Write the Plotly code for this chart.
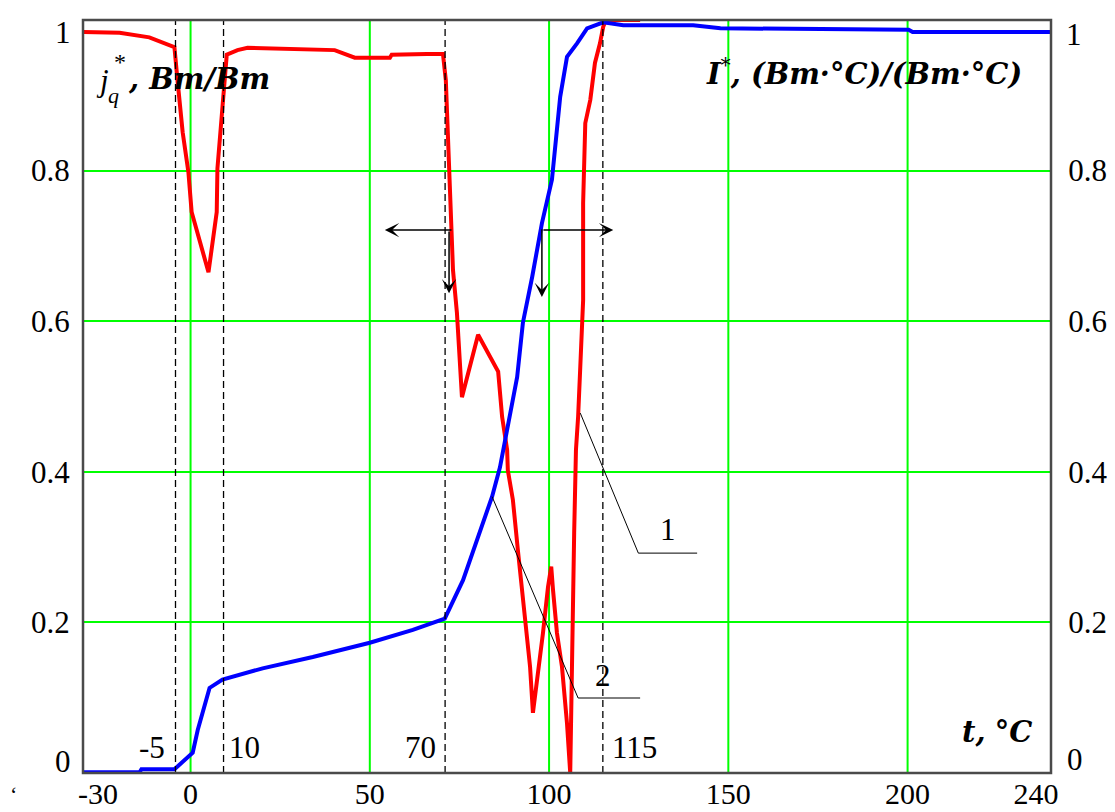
import plotly.graph_objects as go

# ---------------- data ----------------
# curve 1 : j_q*  (left axis)
t_red = [-29.9, -19.8, -11.5, -7.3, -4.5, -3.6, -2.2, -0.6, 0.3, 5.0, 7.3, 7.5, 8.7, 10.1,
         13.1, 15.9, 40.2, 45.8, 55.6, 56.1, 65.9, 70.4, 71.2, 72.3, 73.2, 74.3, 74.9, 75.7,
         80.2, 85.8, 86.9, 88.3, 88.5, 89.9, 91.3, 92.5, 93.9, 94.7, 95.5, 96.6, 98.3, 99.7,
         100.6, 101.1, 102.2, 103.6, 105.0, 105.9, 106.4, 107.0, 107.5, 108.1, 108.7, 109.5,
         109.5, 110.1, 111.5, 112.8, 114.2, 115.1, 115.9, 125.4]
j_red = [0.984, 0.983, 0.977, 0.969, 0.964, 0.918, 0.851, 0.798, 0.745, 0.665, 0.745, 0.803,
         0.874, 0.954, 0.960, 0.963, 0.960, 0.950, 0.950, 0.954, 0.955, 0.955, 0.920, 0.788,
         0.668, 0.611, 0.558, 0.499, 0.582, 0.533, 0.473, 0.429, 0.402, 0.363, 0.296, 0.239,
         0.186, 0.141, 0.080, 0.120, 0.186, 0.247, 0.274, 0.243, 0.186, 0.141, 0.066, 0.0,
         0.186, 0.319, 0.429, 0.473, 0.539, 0.628, 0.757, 0.863, 0.894, 0.943, 0.969, 0.991,
         1.0, 1.0]

# curve 2 : I*  (right axis)
t_blue = [-29.9, -14.2, -13.7, -4.5, -3.1, 0.6, 2.0, 5.3, 8.9, 20.1, 34.1, 50.0, 62.0, 70.9,
          76.0, 79.9, 84.1, 86.3, 88.3, 91.1, 92.7, 95.3, 98.0, 100.8, 103.1, 105.0, 107.8,
          110.6, 115.1, 120.7, 140.2, 147.8, 200.3, 201.4, 239.9]
i_blue = [0.001, 0.001, 0.005, 0.005, 0.011, 0.027, 0.057, 0.113, 0.124, 0.139, 0.154, 0.173,
          0.190, 0.205, 0.256, 0.309, 0.367, 0.406, 0.456, 0.526, 0.598, 0.659, 0.730, 0.788,
          0.898, 0.951, 0.969, 0.989, 0.997, 0.993, 0.993, 0.989, 0.987, 0.984, 0.984]

NB = "\u00a0"
x_tickvals = [-30, 0, 50, 100, 150, 200, 240]
x_ticktext = [NB * 4 + "-30", "0", "50", "100", "150", "200", "240" + NB * 4]
x_gridvals = [0, 50, 100, 150, 200]
y_tickvals = [0.2, 0.4, 0.6, 0.8]
y_ticktext = ["0.2", "0.4", "0.6", "0.8"]
y_end_labels = ["0", "1"]

v_lines = [-4.2, 9.2, 71.0, 115.0]
v_labels = ["-5", "10", "70", "115"]

# ---------------- layout helpers ----------------
L, R, T, B = 83, 1051, 20, 773
W, H = 1115, 812
FONT = "Liberation Serif"
TFONT = "DejaVu Serif"


def px(x):
    return (x - L) / (R - L)


def py(y):
    return (B - y) / (B - T)


fig = go.Figure()

fig.add_trace(go.Scatter(x=t_red, y=j_red, mode="lines", yaxis="y",
                         line=dict(color="#ff0000", width=4), showlegend=False,
                         hoverinfo="skip"))
fig.add_trace(go.Scatter(x=t_blue, y=i_blue, mode="lines", yaxis="y2",
                         line=dict(color="#0000ff", width=4), showlegend=False,
                         hoverinfo="skip"))

shapes = []
for g in x_gridvals:
    shapes.append(dict(type="line", xref="x", yref="paper", x0=g, x1=g, y0=0, y1=1,
                       line=dict(color="#00ff00", width=2), layer="below"))
for v in v_lines:
    shapes.append(dict(type="line", xref="x", yref="paper", x0=v, x1=v, y0=0, y1=1,
                       line=dict(color="black", width=1.3, dash="7px,4px")))
shapes.append(dict(type="path", xref="x", yref="y",
                   path="M 108.7 0.478 L 124.9 0.292 L 141.3 0.292",
                   line=dict(color="black", width=1)))
shapes.append(dict(type="path", xref="x", yref="y",
                   path="M 84.1 0.367 L 108.1 0.0996 L 125.4 0.0996",
                   line=dict(color="black", width=1)))
shapes.append(dict(type="rect", xref="paper", yref="paper", x0=0, x1=1, y0=0, y1=1,
                   line=dict(color="#4a4a4a", width=2.5)))

ann = []
f31 = dict(family=FONT, size=31, color="black")
fbt = dict(family=TFONT, size=29, color="black")

# extreme y tick labels placed inward like the reference
for (x, y, t) in [(63, 33, y_end_labels[1]), (63, 761, y_end_labels[0]),
                  (1074, 35, y_end_labels[1]), (1075, 759, y_end_labels[0])]:
    ann.append(dict(x=px(x), y=py(y), xref="paper", yref="paper", text=t, showarrow=False,
                    font=f31, xanchor="center", yanchor="middle"))

for (x, t) in zip([152, 244, 420, 634], v_labels):
    ann.append(dict(x=px(x), y=py(747), xref="paper", yref="paper", text=t, showarrow=False,
                    font=f31, xanchor="center", yanchor="middle"))

# left axis title  j_q*, Bm/Bm
ann.append(dict(x=px(102), y=py(80), xref="paper", yref="paper", text="<i>j</i>",
                showarrow=False, font=dict(family=FONT, size=31), xanchor="center",
                yanchor="middle"))
ann.append(dict(x=px(113), y=py(95), xref="paper", yref="paper", text="<i>q</i>",
                showarrow=False, font=dict(family=FONT, size=22), xanchor="center",
                yanchor="middle"))
ann.append(dict(x=px(120), y=py(62), xref="paper", yref="paper", text="*",
                showarrow=False, font=dict(family=FONT, size=24), xanchor="center",
                yanchor="middle"))
ann.append(dict(x=px(126), y=py(79), xref="paper", yref="paper",
                text="<b><i>, Bm/Bm</i></b>", showarrow=False, font=fbt,
                xanchor="left", yanchor="middle"))

# right axis title  I*, (Bm·°C)/(Bm·°C)
ann.append(dict(x=px(1024), y=py(72), xref="paper", yref="paper",
                text="<b><i>I</i></b><sup>*</sup><b><i>, (Bm·°C)/(Bm·°C)</i></b>",
                showarrow=False, font=fbt, xanchor="right", yanchor="middle"))

# x axis title
ann.append(dict(x=px(1034), y=py(732), xref="paper", yref="paper",
                text="<b><i>t,</i></b> <b><i>°C</i></b>", showarrow=False, font=fbt,
                xanchor="right", yanchor="middle"))

# curve labels
ann.append(dict(x=133.2, y=0.323, xref="x", yref="y", text="1", showarrow=False,
                font=f31, xanchor="center", yanchor="middle"))
ann.append(dict(x=115.1, y=0.130, xref="x", yref="y", text="2", showarrow=False,
                font=f31, xanchor="center", yanchor="middle"))

# stray mark at bottom-left
ann.append(dict(x=px(13), y=py(794), xref="paper", yref="paper", text="‘", showarrow=False,
                font=dict(family=FONT, size=22, color="black"), xanchor="center",
                yanchor="middle"))

# arrows
arrow_style = dict(showarrow=True, arrowhead=3, arrowsize=1.6, arrowwidth=1.5,
                   arrowcolor="black", text="", xref="x", yref="y", axref="x", ayref="y")
ann.append(dict(x=54.2, y=0.721, ax=73.2, ay=0.721, **arrow_style))
ann.append(dict(x=72.1, y=0.637, ax=72.1, ay=0.721, **arrow_style))
ann.append(dict(x=117.9, y=0.721, ax=98.0, ay=0.721, **arrow_style))
ann.append(dict(x=98.0, y=0.632, ax=98.0, ay=0.724, **arrow_style))

fig.update_layout(
    width=W, height=H,
    margin=dict(l=L, r=W - R, t=T, b=H - B, pad=0),
    paper_bgcolor="white", plot_bgcolor="white",
    font=dict(family=FONT, size=31, color="black"),
    shapes=shapes, annotations=ann,
    xaxis=dict(range=[-30, 240], tickvals=x_tickvals, ticktext=x_ticktext,
               showgrid=False, zeroline=False, showline=False,
               ticks="", tickfont=dict(family=FONT, size=30, color="black"),
               automargin=False, fixedrange=True),
    yaxis=dict(range=[0, 1], tickvals=y_tickvals, ticktext=y_ticktext,
               showgrid=True, gridcolor="#00ff00", gridwidth=2, zeroline=False,
               showline=False, ticks="outside", ticklen=6, tickcolor="rgba(0,0,0,0)",
               tickfont=f31, automargin=False, fixedrange=True),
    yaxis2=dict(range=[0, 1], tickvals=y_tickvals, ticktext=y_ticktext,
                overlaying="y", side="right", showgrid=False, zeroline=False,
                showline=False, ticks="outside", ticklen=10, tickcolor="rgba(0,0,0,0)",
                tickfont=f31, automargin=False, fixedrange=True),
)

fig.write_html("out.html")
